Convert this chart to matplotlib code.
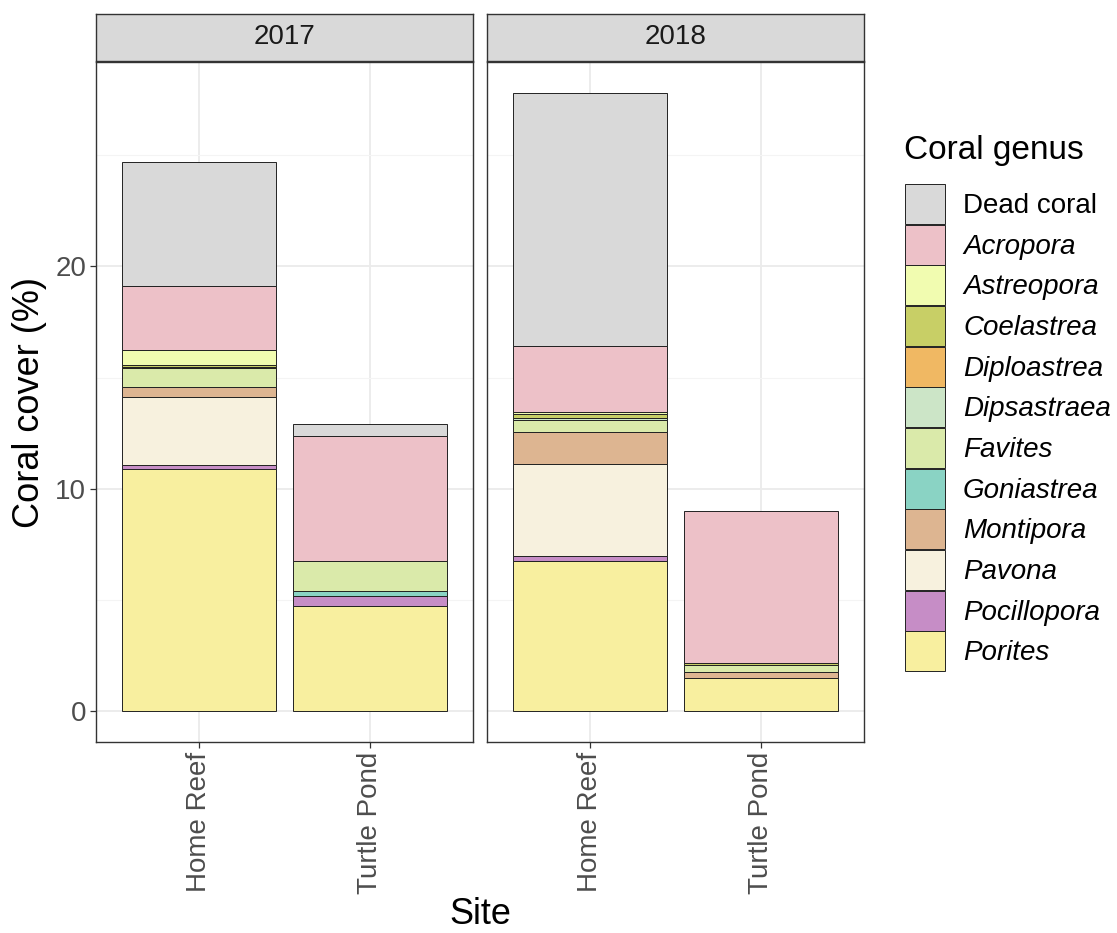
import matplotlib
matplotlib.use("Agg")
import matplotlib.pyplot as plt
from matplotlib.patches import Patch

years = ["2017", "2018"]
sites = ["Home Reef", "Turtle Pond"]
genera = ["Dead coral", "Acropora", "Astreopora", "Coelastrea", "Diploastrea",
          "Dipsastraea", "Favites", "Goniastrea", "Montipora", "Pavona",
          "Pocillopora", "Porites"]
colors = ["#D9D9D9", "#EDC1C8", "#F1FCB0", "#C8CF66", "#F0B863", "#CCE5C7",
          "#DAEAAA", "#8AD3C4", "#DDB591", "#F7F1DE", "#C68DC6", "#F8EF9F"]

# cover (%) per genus, same order as `genera`
cover_2017_home = [5.59, 2.89, 0.68, 0.06, 0.05, 0, 0.87, 0, 0.46, 3.03, 0.18, 10.9]
cover_2017_turtle = [0.55, 5.62, 0, 0, 0, 0, 1.33, 0.22, 0, 0, 0.45, 4.74]
cover_2018_home = [11.37, 2.99, 0.10, 0.16, 0, 0.07, 0.57, 0, 1.45, 4.13, 0.23, 6.73]
cover_2018_turtle = [0, 6.80, 0, 0.10, 0, 0, 0.33, 0, 0.24, 0, 0, 1.51]

data = {
    "2017": [cover_2017_home, cover_2017_turtle],
    "2018": [cover_2018_home, cover_2018_turtle],
}

plt.rcParams['font.family'] = ['Liberation Sans', 'DejaVu Sans']
fig = plt.figure(figsize=(11.17, 9.33), dpi=100)

W, H = 1117, 933
panel_x = [96, 487]
panel_w = 377
top, bottom = 62, 742
strip_top = 14

axes = []
for i, yr in enumerate(years):
    ax = fig.add_axes([panel_x[i] / W, 1 - bottom / H, panel_w / W, (bottom - top) / H])
    axes.append(ax)
    ax.set_xlim(0.4, 2.6)
    ax.set_ylim(-1.39, 29.19)
    ax.set_axisbelow(True)
    ax.set_yticks([0, 10, 20])
    ax.set_yticks([5, 15, 25], minor=True)
    ax.grid(True, which="major", color="#EBEBEB", lw=1.3)
    ax.grid(True, which="minor", axis="y", color="#F4F4F4", lw=0.8)
    ax.tick_params(which="minor", length=0)
    for sp in ax.spines.values():
        sp.set_color("#333333")
        sp.set_linewidth(1.0)
    ax.set_xticks([1, 2])
    ax.set_xticklabels(sites, rotation=90)
    ax.tick_params(axis="both", which="major", colors="#333333", length=4, width=0.9,
                   labelcolor="#4D4D4D", labelsize=20, pad=3)
    if i > 0:
        ax.tick_params(axis="y", labelleft=False, length=0)

    for s, vals in enumerate(data[yr]):
        base = 0.0
        for g in range(len(genera) - 1, -1, -1):
            v = vals[g]
            if v <= 0:
                continue
            ax.bar(s + 1, v, bottom=base, width=0.9, color=colors[g],
                   edgecolor="#222222", linewidth=0.7)
            base += v

    # facet strip
    sax = fig.add_axes([panel_x[i] / W, 1 - (top - 1) / H, panel_w / W, (top - 1 - strip_top) / H])
    sax.set_xticks([])
    sax.set_yticks([])
    sax.set_facecolor("#D9D9D9")
    for sp in sax.spines.values():
        sp.set_color("#333333")
        sp.set_linewidth(1.0)
    sax.text(0.5, 0.5, yr, ha="center", va="center", fontsize=20, color="#1A1A1A",
             transform=sax.transAxes)

fig.text(30 / W, 1 - 402 / H, "Coral cover (%)", rotation=90, ha="center", va="center", fontsize=26)
fig.text((96 + 864) / 2 / W, 1 - 915 / H, "Site", ha="center", va="center", fontsize=26)

fig.text(904 / W, 1 - 151 / H, "Coral genus", ha="left", va="center", fontsize=24)
handles = [Patch(facecolor=c, edgecolor="#222222", linewidth=0.7) for c in colors]
leg = fig.legend(handles, genera, loc="upper left", bbox_to_anchor=(905 / W, 1 - 184 / H),
                 frameon=False, fontsize=20,
                 handlelength=1.44, handleheight=1.83, labelspacing=0.03,
                 handletextpad=0.65, borderaxespad=0, borderpad=0)
for t in leg.get_texts()[1:]:
    t.set_fontstyle("italic")

fig.savefig("out.png", dpi=100)
